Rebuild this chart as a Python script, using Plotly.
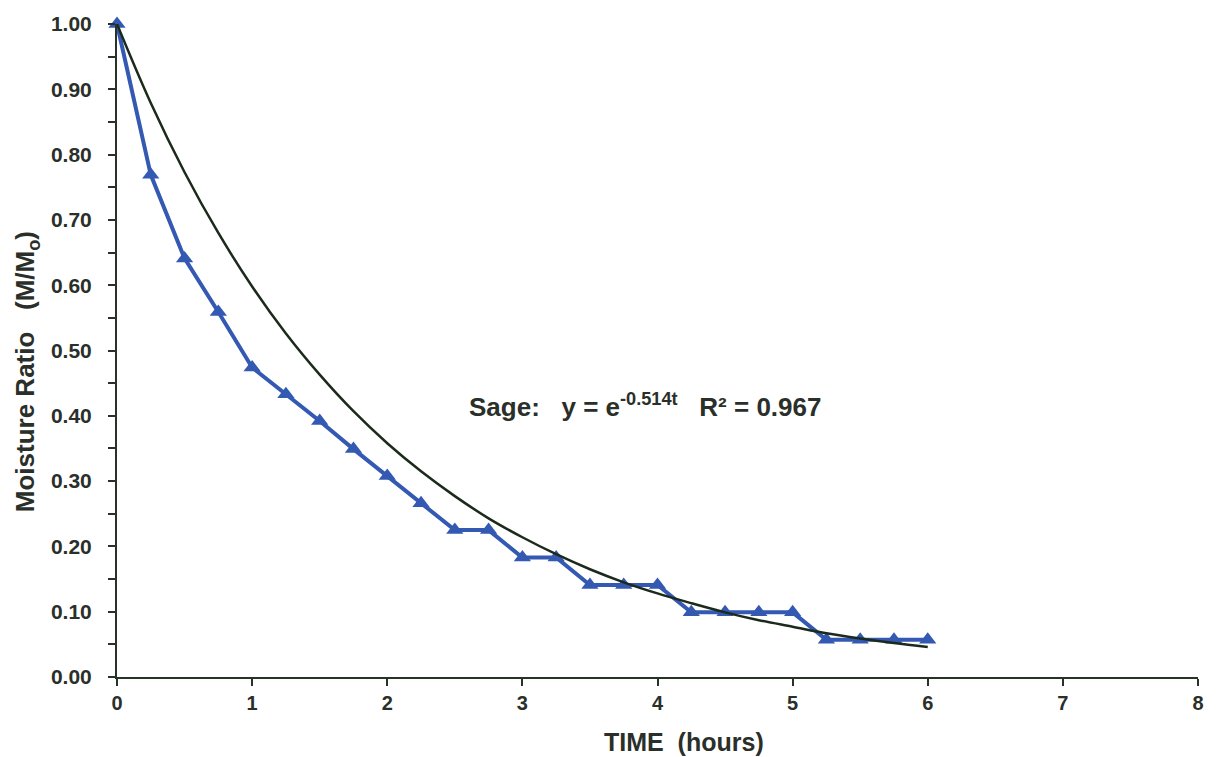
import plotly.graph_objects as go

# Measured drying data (blue triangles)
time_h = [0, 0.25, 0.5, 0.75, 1.0, 1.25, 1.5, 1.75, 2.0, 2.25, 2.5, 2.75, 3.0,
          3.25, 3.5, 3.75, 4.0, 4.25, 4.5, 4.75, 5.0, 5.25, 5.5, 5.75, 6.0]
moisture_ratio = [1.00, 0.769, 0.641, 0.559, 0.474, 0.433, 0.392, 0.349, 0.308,
                  0.266, 0.225, 0.225, 0.183, 0.183, 0.141, 0.141, 0.141,
                  0.099, 0.099, 0.099, 0.099, 0.057, 0.057, 0.057, 0.057]

# Fitted Sage curve values (black line)
fit_time = [0, 0.25, 0.5, 0.75, 1.0, 1.25, 1.5, 1.75, 2.0, 2.25, 2.5, 2.75, 3.0,
            3.25, 3.5, 3.75, 4.0, 4.25, 4.5, 4.75, 5.0, 5.25, 5.5, 5.75, 6.0]
fit_ratio = [1.000, 0.879, 0.773, 0.680, 0.598, 0.526, 0.463, 0.407, 0.358,
             0.315, 0.277, 0.243, 0.214, 0.188, 0.165, 0.145, 0.128, 0.113,
             0.099, 0.087, 0.077, 0.067, 0.059, 0.052, 0.046]

x_ticks = [0, 1, 2, 3, 4, 5, 6, 7, 8]
y_ticks = [0.0, 0.1, 0.2, 0.3, 0.4, 0.5, 0.6, 0.7, 0.8, 0.9, 1.0]

axis_col = "#263326"
text_col = "#2a2f2a"
font_family = "Liberation Sans, Arial, sans-serif"

fig = go.Figure()
fig.add_trace(go.Scatter(
    x=time_h, y=moisture_ratio, mode="lines+markers",
    line=dict(color="#3459b2", width=4),
    marker=dict(symbol="triangle-up", size=15, color="#3459b2"),
    showlegend=False, cliponaxis=False,
))
fig.add_trace(go.Scatter(
    x=fit_time, y=fit_ratio, mode="lines",
    line=dict(color="#1c2a1c", width=2.5, shape="spline"),
    showlegend=False, cliponaxis=False,
))

fig.update_layout(
    width=1216, height=757,
    margin=dict(l=117, r=14, t=20, b=80),
    paper_bgcolor="white", plot_bgcolor="white",
    font=dict(family=font_family, color=text_col),
    xaxis=dict(
        range=[0, 8], tickvals=x_ticks, ticks="outside", ticklen=7,
        tickwidth=2, tickcolor=axis_col, showline=True, linecolor=axis_col,
        linewidth=2, showgrid=False, zeroline=False, ticklabelstandoff=0,
        tickfont=dict(size=20, family=font_family, color=text_col, weight="bold"),
    ),
    yaxis=dict(
        range=[0, 1.0], tickvals=y_ticks, tickformat=".2f", ticks="outside",
        ticklen=7, tickwidth=2, tickcolor=axis_col, showline=True,
        linecolor=axis_col, linewidth=2, showgrid=False, zeroline=False,
        ticklabelstandoff=12,
        minor=dict(dtick=0.05, ticks="outside", ticklen=7, tickwidth=2,
                   tickcolor=axis_col, showgrid=False),
        tickfont=dict(size=21, family=font_family, color=text_col, weight="bold"),
    ),
    annotations=[
        dict(text="<b>TIME  (hours)</b>", xref="paper", yref="paper",
             x=(686 - 117) / (1202 - 117), y=-(742 - 677) / (677 - 20),
             xanchor="center", yanchor="middle", showarrow=False,
             font=dict(size=25, family=font_family, color=text_col)),
        dict(text="<b>Moisture Ratio   (M/M<sub>o</sub>)</b>", xref="paper",
             yref="paper", x=-(117 - 27) / (1202 - 117),
             y=(677 - 370) / (677 - 20), textangle=-90,
             xanchor="center", yanchor="middle", showarrow=False,
             font=dict(size=26, family=font_family, color=text_col)),
        dict(text="<b>Sage:   y = e<sup>-0.514t</sup>   R² = 0.967</b>",
             xref="paper", yref="paper",
             x=(647 - 117) / (1202 - 117), y=(677 - 404) / (677 - 20),
             xanchor="center", yanchor="middle", showarrow=False,
             font=dict(size=26, family=font_family, color=text_col)),
    ],
)

fig.write_html("out.html")
